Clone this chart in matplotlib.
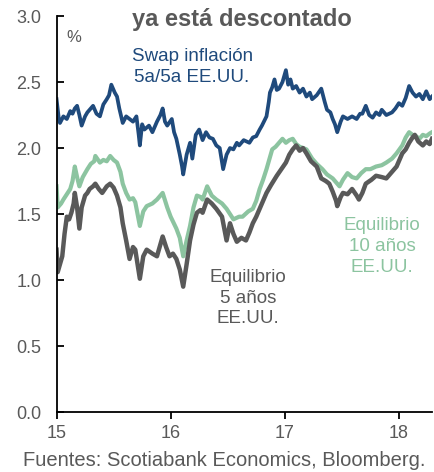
import matplotlib
matplotlib.use("Agg")
import matplotlib.pyplot as plt

plt.rcParams['font.family'] = ['Liberation Sans', 'DejaVu Sans']

# Swap inflación 5a/5a EE.UU. (años decimales, %)
swap_x = [15.00, 15.02, 15.03, 15.06, 15.09, 15.12, 15.14, 15.16, 15.18, 15.20, 15.22, 15.25, 15.27, 15.30,
          15.32, 15.35, 15.38, 15.41, 15.44, 15.46, 15.48, 15.51, 15.53, 15.55, 15.58, 15.61, 15.64, 15.67,
          15.70, 15.72, 15.73, 15.75, 15.77, 15.81, 15.84, 15.88, 15.91, 15.93, 15.95, 15.97, 16.01, 16.03,
          16.05, 16.08, 16.10, 16.11, 16.14, 16.17, 16.19, 16.22, 16.25, 16.28, 16.31, 16.34, 16.37, 16.40,
          16.43, 16.46, 16.49, 16.52, 16.55, 16.58, 16.60, 16.64, 16.69, 16.72, 16.75, 16.78, 16.80, 16.84,
          16.86, 16.87, 16.89, 16.91, 16.93, 16.95, 16.98, 17.01, 17.03, 17.05, 17.07, 17.10, 17.13, 17.16,
          17.19, 17.22, 17.24, 17.28, 17.32, 17.35, 17.37, 17.40, 17.42, 17.44, 17.46, 17.49, 17.51, 17.55,
          17.59, 17.63, 17.66, 17.68, 17.71, 17.74, 17.77, 17.80, 17.83, 17.85, 17.89, 17.94, 17.97, 18.00,
          18.03, 18.06, 18.09, 18.12, 18.15, 18.18, 18.21, 18.24, 18.27, 18.29]
swap_y = [2.37, 2.22, 2.19, 2.24, 2.22, 2.28, 2.26, 2.30, 2.32, 2.25, 2.17, 2.24, 2.27, 2.30,
          2.32, 2.26, 2.24, 2.33, 2.37, 2.40, 2.48, 2.42, 2.39, 2.30, 2.19, 2.24, 2.22, 2.20,
          2.24, 2.10, 2.02, 2.18, 2.14, 2.17, 2.12, 2.20, 2.25, 2.30, 2.20, 2.17, 2.22, 2.12,
          2.07, 1.95, 1.86, 1.80, 1.95, 2.04, 1.92, 2.10, 2.14, 2.06, 2.12, 2.08, 2.07, 2.02,
          2.00, 1.84, 1.95, 2.00, 1.99, 2.04, 2.02, 2.06, 2.04, 2.08, 2.09, 2.14, 2.17, 2.24,
          2.35, 2.42, 2.46, 2.52, 2.44, 2.45, 2.50, 2.59, 2.48, 2.52, 2.45, 2.47, 2.42, 2.45,
          2.39, 2.42, 2.37, 2.40, 2.45, 2.35, 2.29, 2.27, 2.22, 2.18, 2.12, 2.20, 2.24, 2.22,
          2.24, 2.22, 2.26, 2.26, 2.32, 2.25, 2.23, 2.27, 2.25, 2.29, 2.25, 2.27, 2.30, 2.34,
          2.32, 2.38, 2.47, 2.42, 2.39, 2.41, 2.37, 2.43, 2.37, 2.39]

# Equilibrio 10 años EE.UU.
be10_x = [15.00, 15.01, 15.04, 15.06, 15.09, 15.12, 15.14, 15.16, 15.18, 15.20, 15.23, 15.27, 15.30, 15.33,
          15.34, 15.38, 15.41, 15.44, 15.47, 15.50, 15.53, 15.56, 15.58, 15.61, 15.64, 15.67, 15.69, 15.71,
          15.73, 15.76, 15.79, 15.84, 15.88, 15.91, 15.93, 15.97, 16.00, 16.05, 16.08, 16.11, 16.14, 16.17,
          16.20, 16.23, 16.26, 16.28, 16.32, 16.36, 16.40, 16.45, 16.49, 16.52, 16.55, 16.60, 16.63, 16.68,
          16.72, 16.75, 16.78, 16.81, 16.84, 16.87, 16.89, 16.92, 16.95, 16.98, 17.01, 17.04, 17.07, 17.10,
          17.13, 17.19, 17.24, 17.28, 17.33, 17.37, 17.42, 17.45, 17.48, 17.51, 17.55, 17.59, 17.63, 17.67,
          17.71, 17.75, 17.80, 17.85, 17.89, 17.94, 17.98, 18.03, 18.06, 18.09, 18.12, 18.15, 18.18, 18.21,
          18.24, 18.27, 18.29]
be10_y = [1.71, 1.55, 1.58, 1.61, 1.65, 1.69, 1.75, 1.86, 1.78, 1.71, 1.78, 1.84, 1.88, 1.90,
          1.94, 1.89, 1.91, 1.90, 1.94, 1.91, 1.89, 1.82, 1.73, 1.66, 1.61, 1.62, 1.59, 1.50,
          1.41, 1.52, 1.56, 1.58, 1.61, 1.64, 1.66, 1.55, 1.48, 1.39, 1.32, 1.18, 1.30, 1.41,
          1.55, 1.64, 1.63, 1.61, 1.71, 1.64, 1.61, 1.58, 1.54, 1.50, 1.46, 1.48, 1.48, 1.52,
          1.54, 1.60, 1.69, 1.76, 1.84, 1.93, 1.99, 2.01, 2.04, 2.07, 2.04, 2.06, 2.07, 2.03,
          2.01, 1.99, 1.92, 1.88, 1.84, 1.80, 1.77, 1.74, 1.71, 1.76, 1.81, 1.78, 1.77, 1.81,
          1.84, 1.84, 1.86, 1.87, 1.89, 1.92, 1.96, 2.02, 2.08, 2.12, 2.10, 2.09, 2.07, 2.10,
          2.09, 2.11, 2.12]

# Equilibrio 5 años EE.UU.
be5_x = [15.00, 15.01, 15.03, 15.05, 15.07, 15.09, 15.11, 15.13, 15.15, 15.16, 15.18, 15.20, 15.22, 15.25,
         15.27, 15.29, 15.32, 15.34, 15.37, 15.40, 15.44, 15.47, 15.50, 15.53, 15.56, 15.58, 15.61, 15.64,
         15.67, 15.69, 15.71, 15.73, 15.76, 15.79, 15.84, 15.88, 15.91, 15.93, 15.96, 15.99, 16.02, 16.05,
         16.08, 16.11, 16.14, 16.17, 16.20, 16.23, 16.26, 16.28, 16.32, 16.36, 16.40, 16.45, 16.49, 16.52,
         16.55, 16.58, 16.62, 16.66, 16.69, 16.72, 16.75, 16.78, 16.81, 16.84, 16.88, 16.93, 16.97, 17.01,
         17.04, 17.07, 17.10, 17.13, 17.16, 17.19, 17.23, 17.28, 17.32, 17.36, 17.39, 17.42, 17.45, 17.46,
         17.49, 17.51, 17.55, 17.59, 17.63, 17.65, 17.68, 17.71, 17.76, 17.80, 17.85, 17.89, 17.94, 17.98,
         18.03, 18.06, 18.09, 18.12, 18.14, 18.17, 18.21, 18.24, 18.27, 18.29]
be5_y = [1.23, 1.06, 1.12, 1.18, 1.35, 1.48, 1.46, 1.51, 1.58, 1.66, 1.55, 1.39, 1.55, 1.64,
         1.66, 1.69, 1.71, 1.73, 1.69, 1.66, 1.71, 1.73, 1.70, 1.64, 1.55, 1.43, 1.30, 1.16,
         1.25, 1.23, 1.12, 1.01, 1.18, 1.23, 1.20, 1.18, 1.27, 1.33, 1.25, 1.18, 1.20, 1.16,
         1.08, 0.95, 1.12, 1.30, 1.42, 1.51, 1.53, 1.51, 1.61, 1.58, 1.54, 1.48, 1.30, 1.43,
         1.35, 1.29, 1.32, 1.30, 1.36, 1.43, 1.48, 1.54, 1.60, 1.66, 1.72, 1.79, 1.84, 1.89,
         1.95, 1.99, 2.02, 1.98, 2.00, 1.96, 1.90, 1.86, 1.77, 1.75, 1.73, 1.67, 1.60, 1.56,
         1.63, 1.66, 1.65, 1.69, 1.64, 1.61, 1.66, 1.73, 1.76, 1.79, 1.78, 1.77, 1.82, 1.86,
         1.96, 1.99, 2.04, 2.08, 2.10, 2.05, 2.02, 2.05, 2.03, 2.07]

year_ticks = [15, 16, 17, 18]
value_ticks = [0.0, 0.5, 1.0, 1.5, 2.0, 2.5, 3.0]

blue = '#1f4a7c'
green = '#8cc4a0'
gray = '#595959'

fig = plt.figure(figsize=(4.35, 4.72), dpi=100)
ax = fig.add_axes([0.130, 0.127, 0.863, 0.839])

ax.plot(swap_x, swap_y, color=blue, lw=2.7, solid_joinstyle='round')
ax.plot(be10_x, be10_y, color=green, lw=3.0, solid_joinstyle='round')
ax.plot(be5_x, be5_y, color=gray, lw=3.2, solid_joinstyle='round')

ax.set_xlim(15, 18.29)
ax.set_ylim(0, 3.0)
ax.set_xticks(year_ticks)
ax.set_xticklabels([str(t) for t in year_ticks])
ax.set_yticks(value_ticks)
ax.set_yticklabels([f'{v:.1f}' for v in value_ticks])
ax.spines['top'].set_visible(False)
ax.spines['right'].set_visible(False)
for s in ('left', 'bottom'):
    ax.spines[s].set_linewidth(1.3)
    ax.spines[s].set_color('black')
ax.tick_params(axis='y', direction='in', length=5, width=1.3, labelsize=13, labelcolor=gray, pad=11)
ax.tick_params(axis='x', direction='out', length=5, width=1.3, labelsize=13, labelcolor=gray, pad=4)

ax.text(0.045, 0.945, '%', transform=ax.transAxes, fontsize=12, color=gray, va='center', ha='center')
ax.text(0.361, 0.872, 'Swap inflación\n5a/5a EE.UU.', transform=ax.transAxes, fontsize=13.5,
        color=blue, ha='center', va='center', linespacing=1.3)
ax.text(0.51, 0.288, 'Equilibrio\n5 años\nEE.UU.', transform=ax.transAxes, fontsize=13.5,
        color=gray, ha='center', va='center', linespacing=1.3)
ax.text(0.867, 0.419, 'Equilibrio\n10 años\nEE.UU.', transform=ax.transAxes, fontsize=13.5,
        color=green, ha='center', va='center', linespacing=1.3)

fig.text(0.555, 0.958, 'ya está descontado', fontsize=17, fontweight='bold', color=gray,
         ha='center', va='center')
fig.text(0.052, 0.004, 'Fuentes: Scotiabank Economics, Bloomberg.', fontsize=14.5, color=gray,
         ha='left', va='bottom')

fig.savefig('out.png', dpi=100)
